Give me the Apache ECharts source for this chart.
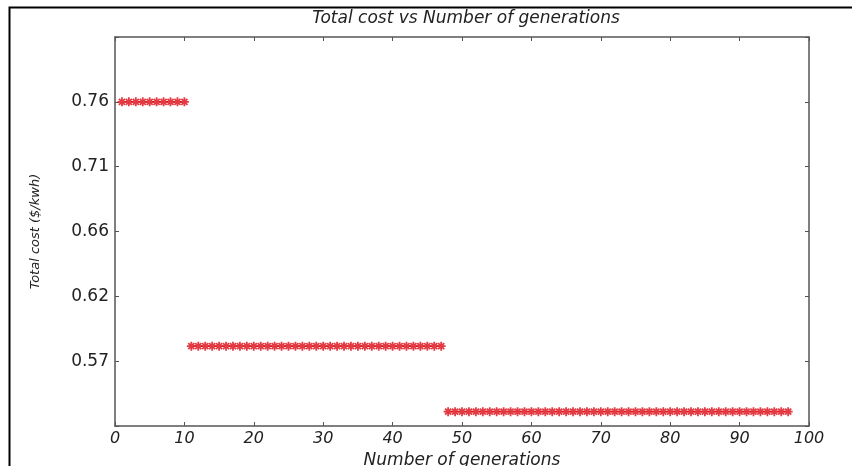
<!DOCTYPE html>
<html>
<head>
<meta charset="utf-8">
<script src="https://cdn.jsdelivr.net/npm/echarts@6/dist/echarts.min.js"></script>
<style>
  html, body { margin: 0; padding: 0; background: #fff; }
  #main { width: 852px; height: 466px; }
</style>
</head>
<body>
<div id="main"></div>
<script>
// generation number -> total cost
const generations = [
  1, 2, 3, 4, 5, 6, 7, 8, 9, 10,
  11, 12, 13, 14, 15, 16, 17, 18, 19, 20, 21, 22, 23, 24, 25, 26, 27, 28, 29, 30,
  31, 32, 33, 34, 35, 36, 37, 38, 39, 40, 41, 42, 43, 44, 45, 46, 47,
  48, 49, 50, 51, 52, 53, 54, 55, 56, 57, 58, 59, 60, 61, 62, 63, 64, 65, 66, 67,
  68, 69, 70, 71, 72, 73, 74, 75, 76, 77, 78, 79, 80, 81, 82, 83, 84, 85, 86, 87,
  88, 89, 90, 91, 92, 93, 94, 95, 96, 97
];
const totalCost = [
  0.760, 0.760, 0.760, 0.760, 0.760, 0.760, 0.760, 0.760, 0.760, 0.760,
  0.581, 0.581, 0.581, 0.581, 0.581, 0.581, 0.581, 0.581, 0.581, 0.581,
  0.581, 0.581, 0.581, 0.581, 0.581, 0.581, 0.581, 0.581, 0.581, 0.581,
  0.581, 0.581, 0.581, 0.581, 0.581, 0.581, 0.581, 0.581, 0.581, 0.581,
  0.581, 0.581, 0.581, 0.581, 0.581, 0.581, 0.581,
  0.533, 0.533, 0.533, 0.533, 0.533, 0.533, 0.533, 0.533, 0.533, 0.533,
  0.533, 0.533, 0.533, 0.533, 0.533, 0.533, 0.533, 0.533, 0.533, 0.533,
  0.533, 0.533, 0.533, 0.533, 0.533, 0.533, 0.533, 0.533, 0.533, 0.533,
  0.533, 0.533, 0.533, 0.533, 0.533, 0.533, 0.533, 0.533, 0.533, 0.533,
  0.533, 0.533, 0.533, 0.533, 0.533, 0.533, 0.533, 0.533, 0.533, 0.533
];
// y ticks every 0.0475 from 0.5225; only the inner ones carry a label
const yTickLabels = ["", "0.57", "0.62", "0.66", "0.71", "0.76", ""];
const xTickLabels = ["0", "10", "20", "30", "40", "50", "60", "70", "80", "90", "100"];

const axisColor = "#555";
const font = "DejaVu Sans, Verdana, sans-serif";
const asterisk = "path://M0,5L10,5M5,0L5,10M1.6,1.6L8.4,8.4M8.4,1.6L1.6,8.4";
// box axes: line stays on the grid edge, ticks point into the plot
const line = { show: true, onZero: false, lineStyle: { color: axisColor, width: 1.5 } };
const tick = { show: true, inside: true, length: 4, lineStyle: { color: axisColor } };

let chart = echarts.init(document.getElementById("main"));
let option = {
  animation: false,
  backgroundColor: "#fff",
  title: {
    text: "Total cost vs Number of generations",
    left: 461,
    textAlign: "center",
    top: 5,
    textStyle: {
      color: "#222",
      fontSize: 17,
      fontStyle: "italic",
      fontWeight: "normal",
      fontFamily: font
    }
  },
  graphic: [
    {
      type: "polyline",
      shape: { points: [[9.5, 470], [9.5, 7.5], [860, 7.5]] },
      style: { stroke: "#000", lineWidth: 2, fill: null }
    }
  ],
  grid: { left: 115, right: 43, top: 37, bottom: 40, outerBoundsMode: "none" },
  xAxis: [
    {
      type: "value",
      min: 0,
      max: 100,
      interval: 10,
      name: "Number of generations",
      nameLocation: "middle",
      nameGap: 20,
      nameTextStyle: { color: "#222", fontSize: 17, fontStyle: "italic", fontFamily: font },
      axisLine: line,
      axisTick: tick,
      axisLabel: {
        color: "#222",
        fontSize: 16,
        fontStyle: "italic",
        fontFamily: font,
        margin: 5,
        formatter: (v, i) => xTickLabels[i]
      },
      splitLine: { show: false }
    },
    {
      type: "value",
      position: "top",
      min: 0,
      max: 100,
      interval: 10,
      axisLine: line,
      axisTick: tick,
      axisLabel: { show: false },
      splitLine: { show: false }
    }
  ],
  yAxis: [
    {
      type: "value",
      min: 0.5225,
      max: 0.8075,
      interval: 0.0475,
      name: "Total cost ($/kwh)",
      nameLocation: "middle",
      nameRotate: 90,
      nameGap: 73,
      nameTextStyle: { color: "#222", fontSize: 13, fontStyle: "italic", fontFamily: font },
      axisLine: line,
      axisTick: tick,
      axisLabel: {
        color: "#222",
        fontSize: 17,
        fontFamily: font,
        margin: 6,
        formatter: (v, i) => yTickLabels[i]
      },
      splitLine: { show: false }
    },
    {
      type: "value",
      position: "right",
      min: 0.5225,
      max: 0.8075,
      interval: 0.0475,
      axisLine: line,
      axisTick: tick,
      axisLabel: { show: false },
      splitLine: { show: false }
    }
  ],
  series: [
    {
      type: "scatter",
      data: generations.map((g, i) => [g, totalCost[i]]),
      symbol: asterisk,
      symbolSize: 9,
      itemStyle: { color: "rgba(0,0,0,0)", borderColor: "#dc0a14", borderWidth: 1.8 }
    }
  ]
};
chart.setOption(option);
window.addEventListener("resize", chart.resize);
</script>
</body>
</html>
